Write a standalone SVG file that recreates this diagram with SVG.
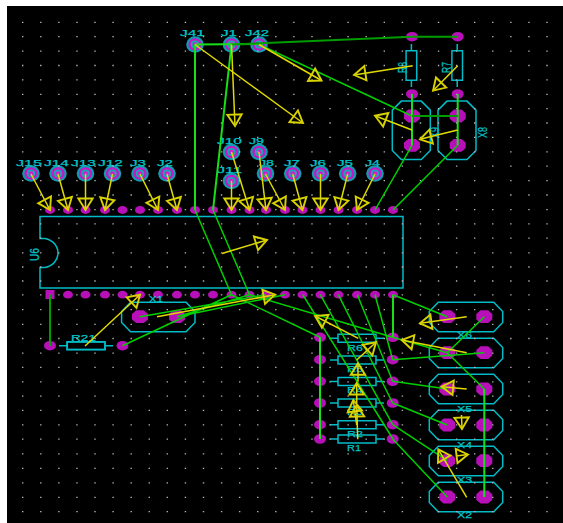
<svg xmlns="http://www.w3.org/2000/svg" width="563" height="523" viewBox="0 0 563 523">
<style>
text{font-family:"Liberation Sans",Arial,sans-serif;font-size:9.5px;fill:#00c4cc;stroke:#00c4cc;stroke-width:.25;}
.v{font-size:12.5px;}
.o{fill:none;stroke:#00bcc8;stroke-width:1.5;}
.p{fill:#b810b8;}
.w{fill:none;stroke:#00d000;stroke-width:1.5;}
.b{fill:none;stroke:#18e018;stroke-width:2;}
.d{fill:none;stroke:#009c00;stroke-width:2;}
.a{fill:none;stroke:#e0da00;stroke-width:1.5;marker-end:url(#ah);}
</style>
<defs>
<marker id="ah" markerUnits="userSpaceOnUse" markerWidth="16" markerHeight="20" viewBox="0 0 16 20" refX="14" refY="10" orient="auto"><path d="M14 10L2.5 2.8V17.2Z" fill="none" stroke="#d8d200" stroke-width="1.9"/></marker>
<g id="jp"><ellipse rx="8.8" ry="8.2" fill="#0f9cb0"/><ellipse rx="6.6" ry="6.2" fill="#c418c4"/><ellipse rx="4.2" ry="3.9" fill="#1aa4b8"/><ellipse rx="2.4" ry="2.2" fill="#d020d0"/></g>
<ellipse id="sp" class="p" rx="5" ry="3.9"/>
<ellipse id="mp" class="p" rx="6" ry="4.8"/>
<path id="bp" class="p" d="M-8-2.8L-3.8-6.4H3.8L8-2.8V2.8L3.8 6.4H-3.8L-8 2.8Z"/>
<path id="hx" class="o" d="M-36.7-5.5L-27.7-14.7H27.7L36.7-5.5V5.5L27.7 14.7H-27.7L-36.7 5.5Z"/>
<path id="vx" class="o" d="M-10-29.2H10L19-20.2V20.2L10 29.2H-10L-19 20.2V-20.2Z"/>
<path id="hr" class="o" d="M-27 0H-19M19 0H27M-19-4H19V4H-19Z"/>
<path id="vr" class="o" d="M0-21.6V-14.8M0 14.8V21.6M-5.3-14.8H5.3V14.8H-5.3Z"/>
</defs>
<rect width="563" height="523" fill="#fff"/>
<rect x="7" y="6" width="556" height="517" fill="#000"/>

<g id="J41"><use href="#jp" x="195" y="44.5"/><text x="180" y="36" textLength="25" lengthAdjust="spacingAndGlyphs">J41</text></g>
<g id="J1"><use href="#jp" x="231.5" y="44.5"/><text x="221" y="36" textLength="16" lengthAdjust="spacingAndGlyphs">J1</text></g>
<g id="J42"><use href="#jp" x="259" y="44.5"/><text x="245" y="36" textLength="24" lengthAdjust="spacingAndGlyphs">J42</text></g>
<g id="J10"><use href="#jp" x="231.5" y="152"/><text x="217" y="143.5" textLength="25" lengthAdjust="spacingAndGlyphs">J10</text></g>
<g id="J9"><use href="#jp" x="259" y="152"/><text x="249" y="143.5" textLength="15" lengthAdjust="spacingAndGlyphs">J9</text></g>
<g id="J11"><use href="#jp" x="231.5" y="181"/><text x="217" y="173" textLength="25" lengthAdjust="spacingAndGlyphs">J11</text></g>
<g id="J15"><use href="#jp" x="31" y="173.5"/><text x="16" y="165.7" textLength="26" lengthAdjust="spacingAndGlyphs">J15</text></g>
<g id="J14"><use href="#jp" x="58" y="173.5"/><text x="44" y="165.7" textLength="25" lengthAdjust="spacingAndGlyphs">J14</text></g>
<g id="J13"><use href="#jp" x="85.5" y="173.5"/><text x="71" y="165.7" textLength="25" lengthAdjust="spacingAndGlyphs">J13</text></g>
<g id="J12"><use href="#jp" x="112.5" y="173.5"/><text x="98" y="165.7" textLength="25" lengthAdjust="spacingAndGlyphs">J12</text></g>
<g id="J3"><use href="#jp" x="140" y="173.5"/><text x="130" y="165.7" textLength="16" lengthAdjust="spacingAndGlyphs">J3</text></g>
<g id="J2"><use href="#jp" x="167" y="173.5"/><text x="157" y="165.7" textLength="16" lengthAdjust="spacingAndGlyphs">J2</text></g>
<g id="J8"><use href="#jp" x="265.5" y="173.5"/><text x="259" y="165.7" textLength="15" lengthAdjust="spacingAndGlyphs">J8</text></g>
<g id="J7"><use href="#jp" x="292.7" y="173.5"/><text x="284" y="165.7" textLength="16" lengthAdjust="spacingAndGlyphs">J7</text></g>
<g id="J6"><use href="#jp" x="320.5" y="173.5"/><text x="310" y="165.7" textLength="16" lengthAdjust="spacingAndGlyphs">J6</text></g>
<g id="J5"><use href="#jp" x="347.7" y="173.5"/><text x="337" y="165.7" textLength="16" lengthAdjust="spacingAndGlyphs">J5</text></g>
<g id="J4"><use href="#jp" x="375" y="173.5"/><text x="365" y="165.7" textLength="15" lengthAdjust="spacingAndGlyphs">J4</text></g>

<g id="U6">
<path class="o" d="M40 216.5H403V288H40V267.5H45C53 266 58 260 58 253C58 246 53 240 45 238.5H40Z"/>
<text class="v" transform="translate(39 261) rotate(-90)" textLength="13" lengthAdjust="spacingAndGlyphs">U6</text>
<use href="#sp" x="50" y="210"/><use href="#sp" x="68" y="210"/><use href="#sp" x="85.5" y="210"/><use href="#sp" x="105" y="210"/><use href="#sp" x="122.5" y="210"/><use href="#sp" x="140" y="210"/><use href="#sp" x="158" y="210"/><use href="#sp" x="177" y="210"/><use href="#sp" x="195" y="210"/><use href="#sp" x="213" y="210"/><use href="#sp" x="231.5" y="210"/><use href="#sp" x="249.5" y="210"/><use href="#sp" x="266" y="210"/><use href="#sp" x="285" y="210"/><use href="#sp" x="302.5" y="210"/><use href="#sp" x="320.5" y="210"/><use href="#sp" x="338.5" y="210"/><use href="#sp" x="357" y="210"/><use href="#sp" x="375" y="210"/><use href="#sp" x="393" y="210"/>
<rect class="p" x="45.5" y="290" width="9" height="9"/><use href="#sp" x="68" y="294.7"/><use href="#sp" x="85.5" y="294.7"/><use href="#sp" x="105" y="294.7"/><use href="#sp" x="122.5" y="294.7"/><use href="#sp" x="140" y="294.7"/><use href="#sp" x="158" y="294.7"/><use href="#sp" x="177" y="294.7"/><use href="#sp" x="195" y="294.7"/><use href="#sp" x="213" y="294.7"/><use href="#sp" x="231.5" y="294.7"/><use href="#sp" x="249.5" y="294.7"/><use href="#sp" x="266" y="294.7"/><use href="#sp" x="285" y="294.7"/><use href="#sp" x="302.5" y="294.7"/><use href="#sp" x="320.5" y="294.7"/><use href="#sp" x="338.5" y="294.7"/><use href="#sp" x="357" y="294.7"/><use href="#sp" x="375" y="294.7"/><use href="#sp" x="393" y="294.7"/>
</g>

<g id="R8"><use href="#vr" x="411.4" y="65.5"/><use href="#mp" x="412" y="36.7"/><use href="#mp" x="412" y="94"/><text class="v" transform="translate(407 73) rotate(-90)" textLength="11" lengthAdjust="spacingAndGlyphs">R8</text></g>
<g id="R7"><use href="#vr" x="457.2" y="65.5"/><use href="#mp" x="457.7" y="36.7"/><use href="#mp" x="457.7" y="94"/><text class="v" transform="translate(451 73) rotate(-90)" textLength="11" lengthAdjust="spacingAndGlyphs">R7</text></g>
<g id="X9"><use href="#vx" x="411.3" y="130.3"/><use href="#bp" x="412" y="116"/><use href="#bp" x="412" y="145.3"/><text class="v" transform="translate(439 138) rotate(-90)" textLength="11" lengthAdjust="spacingAndGlyphs">X9</text></g>
<g id="X8"><use href="#vx" x="457" y="130.3"/><use href="#bp" x="457.7" y="116"/><use href="#bp" x="457.7" y="145.3"/><text class="v" transform="translate(487 138) rotate(-90)" textLength="11" lengthAdjust="spacingAndGlyphs">X8</text></g>

<g id="R21"><use href="#hr" x="86" y="345.7"/><rect class="o" x="67.3" y="342" width="37.7" height="7.4"/><use href="#mp" x="50" y="345.7"/><use href="#mp" x="122.5" y="345.7"/><text x="71" y="341" textLength="25" lengthAdjust="spacingAndGlyphs">R21</text></g>
<g id="X1"><use href="#hx" x="158.3" y="317"/><use href="#bp" x="140" y="316.7"/><use href="#bp" x="177" y="316.7"/><text x="149" y="301.7" textLength="14" lengthAdjust="spacingAndGlyphs">X1</text></g>

<g id="R6"><use href="#hr" x="357" y="338.3"/><use href="#mp" x="320" y="337.3"/><use href="#mp" x="392.7" y="337.3"/><text x="347" y="350.7" textLength="16" lengthAdjust="spacingAndGlyphs">R6</text></g>
<g id="R5"><use href="#hr" x="357" y="360"/><use href="#mp" x="320" y="359.7"/><use href="#mp" x="392.7" y="359.7"/><text x="347" y="371.7" textLength="16" lengthAdjust="spacingAndGlyphs">R5</text></g>
<g id="R4"><use href="#hr" x="357" y="381.5"/><use href="#mp" x="320" y="381.3"/><use href="#mp" x="392.7" y="381.3"/><text x="347" y="393" textLength="16" lengthAdjust="spacingAndGlyphs">R4</text></g>
<g id="R3"><use href="#hr" x="357" y="403"/><use href="#mp" x="320" y="403"/><use href="#mp" x="392.7" y="403"/><text x="347" y="415" textLength="16" lengthAdjust="spacingAndGlyphs">R3</text></g>
<g id="R2"><use href="#hr" x="357" y="424.7"/><use href="#mp" x="320" y="424.7"/><use href="#mp" x="392.7" y="424.7"/><text x="347" y="436.7" textLength="16" lengthAdjust="spacingAndGlyphs">R2</text></g>
<g id="R1"><use href="#hr" x="357" y="439"/><use href="#mp" x="320" y="439"/><use href="#mp" x="392.7" y="439"/><text x="347" y="451" textLength="14" lengthAdjust="spacingAndGlyphs">R1</text></g>

<g id="X6"><use href="#hx" x="466" y="317"/><use href="#bp" x="447.3" y="316.7"/><use href="#bp" x="484.3" y="316.7"/><text x="457" y="338" textLength="15" lengthAdjust="spacingAndGlyphs">X6</text></g>
<g id="X7"><use href="#hx" x="466" y="353"/><use href="#bp" x="447.3" y="352.7"/><use href="#bp" x="484.3" y="352.7"/></g>
<g id="X5"><use href="#hx" x="466" y="389"/><use href="#bp" x="447.3" y="389"/><use href="#bp" x="484.3" y="389"/><text x="457" y="412" textLength="15" lengthAdjust="spacingAndGlyphs">X5</text></g>
<g id="X4"><use href="#hx" x="466" y="425"/><use href="#bp" x="447.3" y="425"/><use href="#bp" x="484.3" y="425"/><text x="457" y="448" textLength="15" lengthAdjust="spacingAndGlyphs">X4</text></g>
<g id="X3"><use href="#hx" x="466" y="461"/><use href="#bp" x="447.3" y="460.7"/><use href="#bp" x="484.3" y="460.7"/><text x="457" y="483" textLength="15" lengthAdjust="spacingAndGlyphs">X3</text></g>
<g id="X2"><use href="#hx" x="466" y="497"/><use href="#bp" x="447.3" y="497"/><use href="#bp" x="484.3" y="497"/><text x="457" y="518" textLength="15" lengthAdjust="spacingAndGlyphs">X2</text></g>

<path id="grid" fill="none" stroke="#b4b4b4" stroke-width="1.3" stroke-dasharray="1.4 16.68" d="M22 22.3H563M22 36.7H563M22 51.1H563M22 65.5H563M22 79.9H563M22 94.3H563M22 108.6H563M22 123H563M22 137.4H563M22 151.8H563M22 166.2H563M22 180.6H563M22 195H563M22 209.6H563M22 223.8H563M22 238.2H563M22 252.8H563M22 267H563M22 281H563M22 294.9H563M22 309.6H563M22 324.3H563M22 338.5H563M22 353.2H563M22 367.3H563M22 381.8H563M22 396.2H563M22 410.3H563M22 424.9H563M22 439.2H563M22 453.8H563M22 468.4H563M22 482.8H563M22 497.3H563M22 511.7H563"/>

<g id="connectors">
<path class="b" d="M195 44.5V210M231.5 44.5L213 210M195 44.5L259 44M50 294.7V345.7"/>
<path class="d" d="M231.5 44.5L412 36.7H457.7M50 294.7V345.7"/>
<path class="w" d="M259 44.5L412 116"/>
<path class="b" d="M412 94V145.3M457.7 94V145.3"/>
<path class="d" d="M412 116H457.7"/>
<path class="w" d="M412 145.3L375 210M457.7 145.3L393 210"/>
<path class="w" d="M195 210L231.5 294.7M213 210L249.5 294.7"/>
<path class="w" d="M122.5 345.7L231.5 294.7M140 316.7L266 294.7M177 316.7L285 294.7M177 316.7L249.5 294.7"/>
<path class="w" d="M231.5 294.7L320 337.3M249.5 294.7L392.7 337.3"/>
<path class="b" d="M320 337.3V439M393 294.7V337.3M484.3 389V497"/>
<path class="w" d="M393 294.7L447.3 316.7M392.7 337.3L447.3 352.7M484.3 316.7L447.3 352.7L484.3 389M392.7 359.7L484.3 352.7M392.7 381.3L447.3 389M392.7 403L447.3 425M392.7 424.7L447.3 460.7M392.7 439L447.3 497"/>
<path class="w" d="M302.7 294.7L393 439M320.3 294.7L392.7 424.7M338.3 294.7L392.7 403M357.3 294.7L392.7 381.3M375 294.7L392.7 359.7"/>
<path class="a" d="M31 174L50 210"/><path class="a" d="M58 174L68 210"/><path class="a" d="M85.5 174V210"/><path class="a" d="M112.5 174L105 210"/><path class="a" d="M140 174L158 210"/><path class="a" d="M167 174L177 210"/><path class="a" d="M231.5 181V210"/><path class="a" d="M231.5 152L249.5 210"/><path class="a" d="M259 152L266 210"/><path class="a" d="M265.5 174L285 210"/><path class="a" d="M292.7 174L302.5 210"/><path class="a" d="M320.5 174V210"/><path class="a" d="M347.7 174L338.5 210"/><path class="a" d="M375 174L357 210"/>
<path class="a" d="M231.5 44.5L235 126"/><path class="a" d="M195 44.5L303 123"/><path class="a" d="M259 44.5L321.5 80.5"/><path class="a" d="M222 253.5L267 240"/>
<path class="a" d="M412.7 65.7L354 75"/><path class="a" d="M457.7 65.7L433 90.7"/><path class="a" d="M412 130L375 115.7"/><path class="a" d="M457.7 130L420 139.3"/>
<path class="a" d="M85 346L140 294.7"/><path class="a" d="M157 316.7L275 294.7"/>
<path class="a" d="M466.7 316.7L420 323.3"/><path class="a" d="M466.7 352.7L401.7 340"/><path class="a" d="M466.7 389L441.7 386.7"/>
<path class="a" d="M461.5 415L462 429"/><path class="a" d="M456 456L468 454.5"/><path class="a" d="M466.7 497.3L438.3 449.3"/>
<path class="a" d="M358.3 338.3L315 316"/><path class="a" d="M356.7 360L376 342.3"/><path class="a" d="M358 381.7V363.3"/><path class="a" d="M356.7 403.3V383"/><path class="a" d="M356.7 425L353.3 400"/><path class="a" d="M357.7 439.3L356.7 405"/>
</g>
</svg>
